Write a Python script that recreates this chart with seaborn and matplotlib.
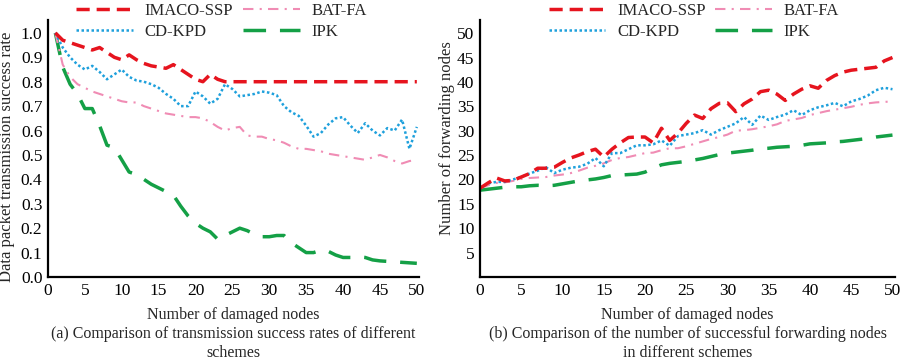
import numpy as np
import pandas as pd
import matplotlib
matplotlib.use('Agg')
import matplotlib.pyplot as plt
import seaborn as sns

# eixo x dos dois paineis
x_a = list(range(1, 51))
x_b = list(range(0, 51))

# (a) taxa de sucesso de transmissao
imaco_a = [1.0, 0.97, 0.96, 0.95, 0.94, 0.93, 0.94, 0.92, 0.90, 0.89,
           0.91, 0.89, 0.875, 0.865, 0.86, 0.855, 0.87, 0.85, 0.83, 0.81,
           0.80, 0.83, 0.81, 0.80, 0.80, 0.80, 0.80, 0.80, 0.80, 0.80,
           0.80, 0.80, 0.80, 0.80, 0.80, 0.80, 0.80, 0.80, 0.80, 0.80,
           0.80, 0.80, 0.80, 0.80, 0.80, 0.80, 0.80, 0.80, 0.80, 0.80]
cdkpd_a = [1.0, 0.94, 0.90, 0.87, 0.85, 0.865, 0.84, 0.81, 0.83, 0.85,
           0.82, 0.805, 0.80, 0.79, 0.775, 0.75, 0.73, 0.70, 0.70, 0.76,
           0.74, 0.71, 0.73, 0.79, 0.77, 0.74, 0.745, 0.75, 0.76, 0.755,
           0.745, 0.70, 0.675, 0.66, 0.62, 0.575, 0.59, 0.625, 0.65, 0.655,
           0.62, 0.59, 0.63, 0.60, 0.58, 0.61, 0.60, 0.645, 0.525, 0.615]
batfa_a = [1.0, 0.87, 0.82, 0.79, 0.775, 0.76, 0.75, 0.74, 0.73, 0.72,
           0.715, 0.715, 0.70, 0.69, 0.68, 0.67, 0.665, 0.66, 0.655, 0.655,
           0.65, 0.635, 0.615, 0.60, 0.61, 0.615, 0.58, 0.575, 0.575, 0.565,
           0.56, 0.55, 0.535, 0.525, 0.525, 0.52, 0.515, 0.505, 0.50, 0.495,
           0.49, 0.485, 0.48, 0.49, 0.50, 0.49, 0.475, 0.465, 0.475, 0.48]
ipk_a = [1.0, 0.86, 0.79, 0.75, 0.69, 0.69, 0.62, 0.54, 0.53, 0.48,
         0.43, 0.42, 0.40, 0.38, 0.365, 0.35, 0.335, 0.29, 0.25, 0.22,
         0.20, 0.185, 0.155, 0.17, 0.185, 0.20, 0.19, 0.175, 0.165, 0.165,
         0.17, 0.17, 0.14, 0.12, 0.10, 0.10, 0.11, 0.105, 0.09, 0.08,
         0.08, 0.083, 0.08, 0.07, 0.066, 0.064, 0.062, 0.06, 0.058, 0.056]

# (b) numero de nos de encaminhamento
imaco_b = [18.2, 19.3, 20.3, 19.7, 19.8, 20.5, 21.2, 22.3, 22.3, 22.5,
           23.5, 24.4, 25.0, 25.7, 26.2, 24.6, 26.2, 27.5, 28.6, 28.7,
           28.7, 27.5, 30.5, 28.0, 29.5, 31.5, 33.2, 32.5, 34.5, 35.6,
           35.7, 33.9, 35.5, 36.5, 38.0, 38.3, 37.5, 36.2, 37.5, 38.5,
           39.2, 38.7, 40.3, 41.3, 42.0, 42.4, 42.6, 42.8, 43.0, 44.3, 45.0]
cdkpd_b = [18.2, 19.2, 19.5, 19.5, 20.0, 20.5, 21.2, 21.8, 22.5, 21.3,
           22.0, 22.4, 22.6, 23.2, 24.4, 22.7, 25.4, 25.4, 26.2, 27.0,
           27.0, 27.2, 28.0, 26.9, 28.9, 29.2, 29.5, 30.1, 29.2, 30.1,
           30.8, 31.5, 32.8, 31.2, 33.1, 32.2, 32.8, 33.3, 34.2, 33.2,
           34.2, 34.8, 35.2, 35.7, 35.0, 36.0, 36.5, 37.2, 38.3, 38.8, 38.5]
batfa_b = [18.2, 18.8, 19.3, 19.4, 19.7, 20.1, 20.3, 20.4, 20.5, 20.8,
           21.0, 21.3, 21.8, 22.4, 22.8, 23.3, 24.0, 24.4, 24.6, 25.0,
           25.4, 25.5, 26.0, 26.4, 26.4, 26.8, 27.3, 27.8, 28.3, 28.7,
           29.2, 30.0, 30.1, 30.3, 30.6, 30.9, 31.3, 32.0, 32.3, 32.6,
           33.2, 33.6, 34.0, 34.3, 34.6, 34.9, 35.3, 35.6, 35.8, 35.9, 36.0]
ipk_b = [17.8, 18.0, 18.2, 18.4, 18.5, 18.5, 18.7, 18.8, 18.7, 18.8,
         19.1, 19.4, 19.7, 19.9, 20.1, 20.4, 20.8, 20.9, 21.0, 21.1,
         21.5, 22.3, 23.0, 23.3, 23.5, 23.7, 24.0, 24.3, 24.7, 25.1,
         25.4, 25.6, 25.8, 26.0, 26.3, 26.4, 26.6, 26.7, 26.8, 27.0,
         27.3, 27.4, 27.5, 27.7, 27.8, 28.0, 28.2, 28.4, 28.7, 28.9, 29.1]

esquemas = ['IMACO-SSP', 'CD-KPD', 'BAT-FA', 'IPK']

# Configuracoes iniciais
sns.set_theme(style='white')
plt.rcParams['font.family'] = ['Liberation Serif', 'DejaVu Serif']

estilos = {
    'IMACO-SSP': dict(color='#e6141e', lw=2.5, ls=(0, (3.8, 2.0))),
    'CD-KPD': dict(color='#1ea0dc', lw=1.8, ls=(0, (1.0, 1.0))),
    'BAT-FA': dict(color='#f08cb4', lw=1.5, ls=(0, (5.0, 3.0, 1.0, 3.0))),
    'IPK': dict(color='#14a046', lw=2.5, ls=(0, (6.5, 4.0))),
}

fig = plt.figure(figsize=(9, 3.61), dpi=100)
ax1 = fig.add_axes([0.0533, 0.2327, 0.4123, 0.712])
ax2 = fig.add_axes([0.5333, 0.2327, 0.4611, 0.712])

paineis = [
    (ax1, x_a, [imaco_a, cdkpd_a, batfa_a, ipk_a]),
    (ax2, x_b, [imaco_b, cdkpd_b, batfa_b, ipk_b]),
]

for ax, xs, series in paineis:
    # desenhar de tras para frente para o vermelho ficar em cima
    for nome, ys in reversed(list(zip(esquemas, series))):
        st = estilos[nome]
        sns.lineplot(x=xs, y=ys, ax=ax, color=st['color'], linewidth=st['lw'],
                     linestyle=st['ls'], label=nome, legend=False)

    for lado in ['top', 'right']:
        ax.spines[lado].set_visible(False)
    for lado in ['left', 'bottom']:
        ax.spines[lado].set_linewidth(1.6)
        ax.spines[lado].set_color('black')
    ax.tick_params(direction='in', length=4, width=1.5, labelsize=12.5,
                   colors='black', pad=4)
    ax.set_xlim(0, 50.3)
    ax.set_xticks(range(0, 51, 5))
    ax.set_xlabel('Number of damaged nodes', fontsize=11.5)
    ax.xaxis.set_label_coords(0.5, -0.115)

ax1.set_ylim(0, 1.053)
ax1.set_yticks(np.arange(0, 1.01, 0.1))
ax1.set_yticklabels([f'{v:.1f}' for v in np.arange(0, 1.01, 0.1)])
ax1.set_ylabel('Data packet transmission success rate', fontsize=12)
ax1.yaxis.set_label_coords(-0.09, 0.467)

ax2.set_ylim(0, 52.7)
ax2.set_yticks(range(5, 51, 5))
ax2.set_ylabel('Number of forwarding nodes', fontsize=12)
ax2.yaxis.set_label_coords(-0.06, 0.54)

# legendas acima de cada painel
for ax, cx in [(ax1, 0.246), (ax2, 0.771)]:
    h, l = ax.get_legend_handles_labels()
    ordem = [l.index(n) for n in esquemas]
    ax.legend([h[i] for i in ordem], [l[i] for i in ordem], ncol=2,
              loc='upper center', bbox_to_anchor=(cx, 1 - 3 / 361),
              bbox_transform=fig.transFigure, frameon=False, fontsize=12,
              borderpad=0, borderaxespad=0, handlelength=3.4,
              handletextpad=0.7, columnspacing=0.6, labelspacing=0.3)

# legendas das figuras
fig.text(0.259, 1 - 326 / 361,
         '(a) Comparison of transmission success rates of different\nschemes',
         ha='center', va='top', fontsize=11.5, linespacing=1.25)
fig.text(0.764, 1 - 326 / 361,
         '(b) Comparison of the number of successful forwarding nodes\nin different schemes',
         ha='center', va='top', fontsize=11.5, linespacing=1.25)

plt.savefig('out.png', dpi=100)
